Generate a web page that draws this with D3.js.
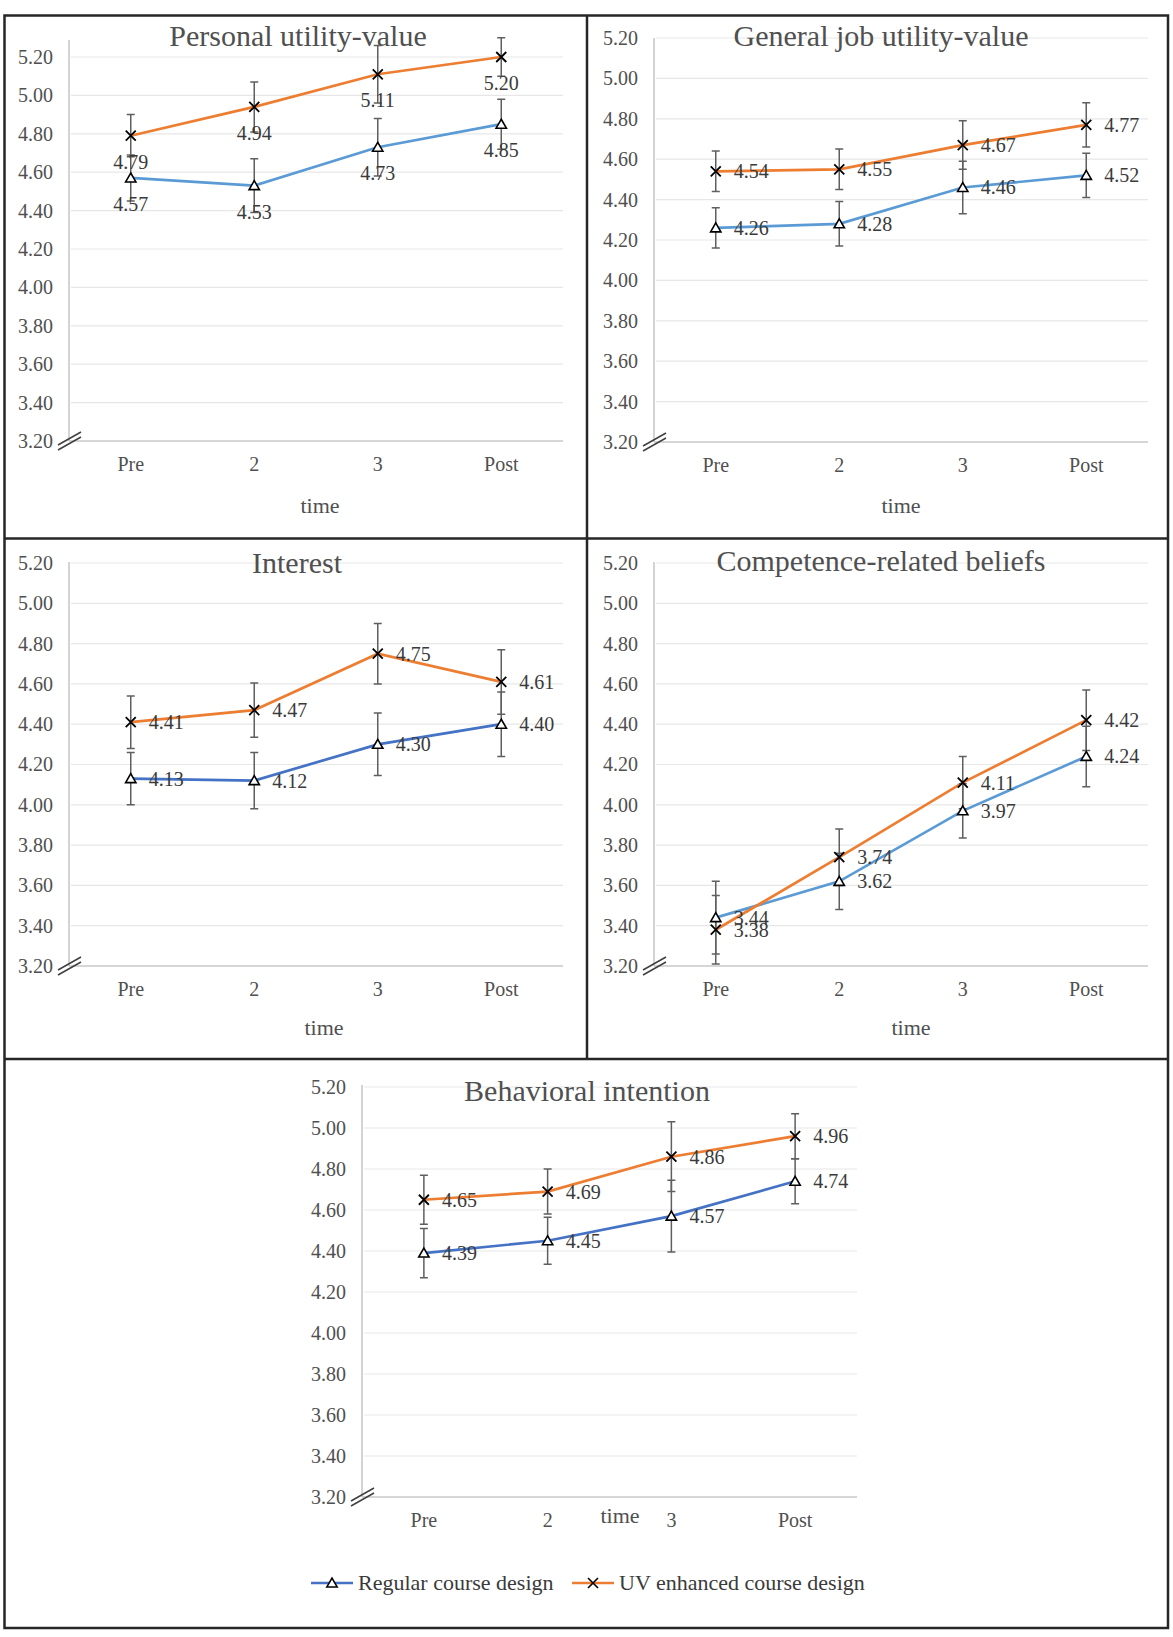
<!DOCTYPE html>
<html>
<head>
<meta charset="utf-8">
<script src="https://cdn.jsdelivr.net/npm/d3@7"></script>
<style>
  body { margin: 0; background: #fff; }
  svg text { font-family: 'Liberation Serif', 'Times New Roman', serif; }
</style>
</head>
<body>
<svg id="chart" width="1173" height="1637"></svg>
<script>
'use strict';

// categories and tick labels
const timePoints   = [ 'Pre', '2', '3', 'Post' ];
const yTickValues  = [ 3.2, 3.4, 3.6, 3.8, 4.0, 4.2, 4.4, 4.6, 4.8, 5.0, 5.2 ];
const panelTitles  = [ 'Personal utility-value', 'General job utility-value', 'Interest', 'Competence-related beliefs', 'Behavioral intention' ];
const seriesNames  = [ 'Regular course design', 'UV enhanced course design' ];

// means per panel (one row per panel, one value per time point)
const regularMeans = [
  [ 4.57, 4.53, 4.73, 4.85 ],
  [ 4.26, 4.28, 4.46, 4.52 ],
  [ 4.13, 4.12, 4.30, 4.40 ],
  [ 3.44, 3.62, 3.97, 4.24 ],
  [ 4.39, 4.45, 4.57, 4.74 ]
];
const uvMeans = [
  [ 4.79, 4.94, 5.11, 5.20 ],
  [ 4.54, 4.55, 4.67, 4.77 ],
  [ 4.41, 4.47, 4.75, 4.61 ],
  [ 3.38, 3.74, 4.11, 4.42 ],
  [ 4.65, 4.69, 4.86, 4.96 ]
];

// error bar half widths
const regularErrors = [
  [ 0.12, 0.14, 0.15, 0.13 ],
  [ 0.10, 0.11, 0.13, 0.11 ],
  [ 0.13, 0.14, 0.155, 0.16 ],
  [ 0.18, 0.14, 0.135, 0.15 ],
  [ 0.12, 0.115, 0.175, 0.11 ]
];
const uvErrors = [
  [ 0.11, 0.13, 0.15, 0.10 ],
  [ 0.10, 0.10, 0.12, 0.11 ],
  [ 0.13, 0.135, 0.15, 0.16 ],
  [ 0.17, 0.14, 0.13, 0.15 ],
  [ 0.12, 0.11, 0.17, 0.11 ]
];

// panel geometry (pixel layout only)
const layout = [
  { x0: 69,  x1: 563,  yTop: 57,   yBottom: 441,  axisTop: 40,   titleX: 298, titleY: 36,   timeX: 320, timeY: 506,  blue: '#5B9BD5', label: 'below' },
  { x0: 654, x1: 1148, yTop: 38,   yBottom: 442,  axisTop: 38,   titleX: 881, titleY: 36,   timeX: 901, timeY: 506,  blue: '#5B9BD5', label: 'right' },
  { x0: 69,  x1: 563,  yTop: 563,  yBottom: 966,  axisTop: 562,  titleX: 297, titleY: 563,  timeX: 324, timeY: 1028, blue: '#4472C4', label: 'right' },
  { x0: 654, x1: 1148, yTop: 563,  yBottom: 966,  axisTop: 562,  titleX: 881, titleY: 561,  timeX: 911, timeY: 1028, blue: '#5B9BD5', label: 'right' },
  { x0: 362, x1: 857,  yTop: 1087, yBottom: 1497, axisTop: 1085, titleX: 587, titleY: 1091, timeX: 620, timeY: 1516, blue: '#4472C4', label: 'right' }
];

const orange   = '#ED7D31',
      textGray = '#505050',
      labelInk = '#3a3a3a';

const svg = d3.select( '#chart' );

// frame
const frame = svg.append( 'g' ).attr( 'class', 'frame' )
  .attr( 'stroke', '#262626' ).attr( 'stroke-width', 2.5 ).attr( 'fill', 'none' );
frame.append( 'rect' ).attr( 'x', 4.5 ).attr( 'y', 15.5 ).attr( 'width', 1163.5 ).attr( 'height', 1612.5 );
frame.append( 'line' ).attr( 'x1', 4.5 ).attr( 'x2', 1168 ).attr( 'y1', 538.5 ).attr( 'y2', 538.5 );
frame.append( 'line' ).attr( 'x1', 4.5 ).attr( 'x2', 1168 ).attr( 'y1', 1059 ).attr( 'y2', 1059 );
frame.append( 'line' ).attr( 'x1', 587 ).attr( 'x2', 587 ).attr( 'y1', 15.5 ).attr( 'y2', 1059 );

const crossPath = 'M-5,-5L5,5M-5,5L5,-5';
const triangle  = d3.symbol( d3.symbolTriangle, 46 )();

layout.forEach( ( p, i ) => {

  const g = svg.append( 'g' ).attr( 'class', 'panel' );

  const x = d3.scaleBand()
              .domain( timePoints )
              .range( [ p.x0, p.x1 ] )
              .padding( 0 );
  const y = d3.scaleLinear()
              .domain( [ 3.2, 5.2 ] )
              .range( [ p.yBottom, p.yTop ] );
  const cx = ( d ) => x( d ) + x.bandwidth() / 2;

  // gridlines
  g.append( 'g' )
      .attr( 'class', 'grid' )
    .selectAll( 'line' )
      .data( yTickValues.slice( 1 ) )
    .enter().append( 'line' )
      .attr( 'x1', p.x0 + 2 )
      .attr( 'x2', p.x1 )
      .attr( 'y1', ( d ) => y( d ) )
      .attr( 'y2', ( d ) => y( d ) )
      .attr( 'stroke', '#e7e7e7' )
      .attr( 'stroke-width', 1.2 );

  // y-axis
  const yAxis = g.append( 'g' )
      .attr( 'class', 'y axis' )
      .attr( 'transform', `translate(${p.x0},0)` )
      .call( d3.axisLeft( y ).tickValues( yTickValues ).tickFormat( d3.format( '.2f' ) ).tickSize( 0 ).tickPadding( 16 ) );
  yAxis.select( '.domain' ).remove();
  yAxis.selectAll( 'text' )
      .style( 'font-size', '20px' )
      .attr( 'fill', textGray );
  g.append( 'line' )
      .attr( 'x1', p.x0 ).attr( 'x2', p.x0 )
      .attr( 'y1', p.axisTop ).attr( 'y2', p.yBottom )
      .attr( 'stroke', '#c8c8c8' ).attr( 'stroke-width', 1.6 );

  // x-axis
  const xAxis = g.append( 'g' )
      .attr( 'class', 'x axis' )
      .attr( 'transform', `translate(0,${p.yBottom})` )
      .call( d3.axisBottom( x ).tickSize( 0 ).tickPadding( 16 ) );
  xAxis.select( '.domain' ).remove();
  xAxis.selectAll( 'text' )
      .style( 'font-size', '20px' )
      .attr( 'fill', textGray );
  g.append( 'line' )
      .attr( 'x1', p.x0 ).attr( 'x2', p.x1 )
      .attr( 'y1', p.yBottom ).attr( 'y2', p.yBottom )
      .attr( 'stroke', '#c8c8c8' ).attr( 'stroke-width', 1.6 );

  // axis break marker
  g.append( 'path' )
      .attr( 'd', `M${p.x0 - 11},${p.yBottom + 4}L${p.x0 + 12},${p.yBottom - 9}M${p.x0 - 11},${p.yBottom + 9}L${p.x0 + 12},${p.yBottom - 4}` )
      .attr( 'stroke', '#404040' ).attr( 'stroke-width', 1.5 ).attr( 'fill', 'none' );

  // titles
  g.append( 'text' )
      .attr( 'x', p.titleX ).attr( 'y', p.titleY ).attr( 'dy', '0.33em' )
      .attr( 'text-anchor', 'middle' )
      .style( 'font-size', '30px' )
      .attr( 'fill', textGray )
      .text( panelTitles[i] );
  g.append( 'text' )
      .attr( 'x', p.timeX ).attr( 'y', p.timeY ).attr( 'dy', '0.33em' )
      .attr( 'text-anchor', 'middle' )
      .style( 'font-size', '22px' )
      .attr( 'fill', textGray )
      .text( 'time' );

  const series = [
    { means: regularMeans[i], errs: regularErrors[i], color: p.blue, marker: 'tri' },
    { means: uvMeans[i],      errs: uvErrors[i],      color: orange, marker: 'x' }
  ];

  const line = d3.line()
                 .x( ( d ) => cx( d.t ) )
                 .y( ( d ) => y( d.v ) );

  series.forEach( ( s ) => {
    const pts = timePoints.map( ( t, k ) => ( { t: t, v: s.means[k], e: s.errs[k] } ) );
    g.append( 'path' )
        .datum( pts )
        .attr( 'd', line )
        .attr( 'fill', 'none' )
        .attr( 'stroke', s.color )
        .attr( 'stroke-width', 2.7 );
    s.pts = pts;
  } );

  // error bars
  series.forEach( ( s ) => {
    const eb = g.append( 'g' ).attr( 'class', 'errorbars' )
                .attr( 'stroke', '#5f5f5f' ).attr( 'stroke-width', 1.5 );
    eb.selectAll( 'path' )
        .data( s.pts )
      .enter().append( 'path' )
        .attr( 'fill', 'none' )
        .attr( 'd', ( d ) => {
          const xx = cx( d.t ), hi = y( d.v + d.e ), lo = y( d.v - d.e );
          return `M${xx},${hi}V${lo}M${xx - 4},${hi}H${xx + 4}M${xx - 4},${lo}H${xx + 4}`;
        } );
  } );

  // markers and data labels
  series.forEach( ( s ) => {
    g.append( 'g' )
        .attr( 'class', 'markers' )
      .selectAll( 'path' )
        .data( s.pts )
      .enter().append( 'path' )
        .attr( 'transform', ( d ) => `translate(${cx( d.t )},${y( d.v ) + ( s.marker === 'tri' ? 1 : 0 )})` )
        .attr( 'd', s.marker === 'tri' ? triangle : crossPath )
        .attr( 'fill', s.marker === 'tri' ? '#fff' : 'none' )
        .attr( 'stroke', '#000' )
        .attr( 'stroke-width', s.marker === 'tri' ? 1.6 : 1.8 );

    g.append( 'g' )
        .attr( 'class', 'labels' )
      .selectAll( 'text' )
        .data( s.pts )
      .enter().append( 'text' )
        .attr( 'x', ( d ) => p.label === 'below' ? cx( d.t ) : cx( d.t ) + 18 )
        .attr( 'y', ( d ) => p.label === 'below' ? y( d.v ) + 26 : y( d.v ) )
        .attr( 'dy', '0.35em' )
        .attr( 'text-anchor', p.label === 'below' ? 'middle' : 'start' )
        .style( 'font-size', '20px' )
        .attr( 'fill', labelInk )
        .text( ( d ) => d3.format( '.2f' )( d.v ) );
  } );

} );

// legend
const legendItems = [
  { name: seriesNames[0], color: '#4472C4', marker: 'tri', x: 311 },
  { name: seriesNames[1], color: orange,    marker: 'x',   x: 572 }
];
const legend = svg.append( 'g' )
                  .attr( 'class', 'legend' )
                  .attr( 'transform', 'translate(0,1583)' );
const item = legend.selectAll( '.item' )
    .data( legendItems )
  .enter().append( 'g' )
    .attr( 'class', 'item' )
    .attr( 'transform', ( d ) => `translate(${d.x},0)` );
item.append( 'line' )
    .attr( 'x1', 0 ).attr( 'x2', 42 )
    .attr( 'stroke', ( d ) => d.color ).attr( 'stroke-width', 2.7 );
item.append( 'path' )
    .attr( 'transform', ( d ) => `translate(21,${d.marker === 'tri' ? 1 : 0})` )
    .attr( 'd', ( d ) => d.marker === 'tri' ? triangle : crossPath )
    .attr( 'fill', ( d ) => d.marker === 'tri' ? '#fff' : 'none' )
    .attr( 'stroke', '#000' )
    .attr( 'stroke-width', 1.6 );
item.append( 'text' )
    .attr( 'x', 47 ).attr( 'dy', '0.33em' )
    .style( 'font-size', '22px' )
    .attr( 'fill', labelInk )
    .text( ( d ) => d.name );
</script>
</body>
</html>
